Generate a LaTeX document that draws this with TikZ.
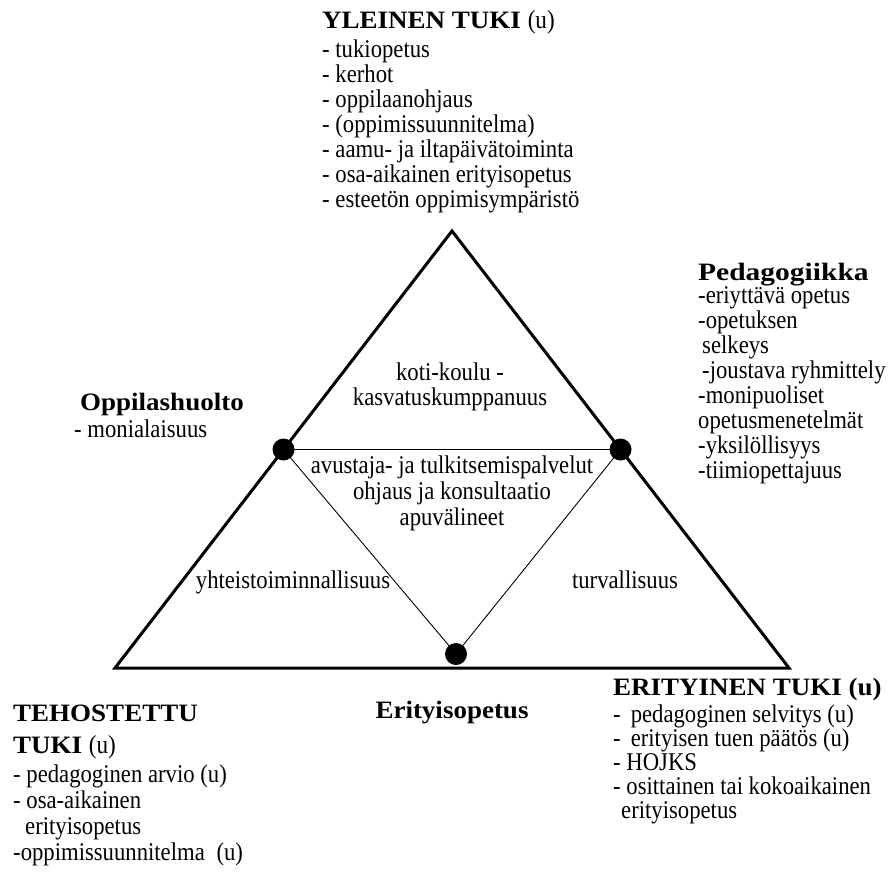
\documentclass[tikz,border=0pt]{standalone}
\usepackage{fontspec}
\setmainfont{Liberation Serif}[FakeStretch=0.89]
\newfontfamily\headfont{Liberation Serif}[FakeStretch=1.08]
\newfontfamily\headwide{Liberation Serif}[FakeStretch=1.18]
\usetikzlibrary{calc}
\tikzset{
  rim/.style={line width=3pt, line join=miter},
  midline/.style={line width=1.4pt},
  thinline/.style={line width=0.9pt},
  bullet/.style={circle, fill=black, inner sep=0pt, minimum size=22pt},
  heading/.style={inner sep=0pt, font=\headfont\bfseries\fontsize{25}{32}\selectfont},
  plain/.style={inner sep=0pt, font=\fontsize{25.5}{25}\selectfont},
  listing/.style={plain, anchor=north west, align=left, execute at begin node={\rule{0pt}{18pt}}},
  inside/.style={plain, anchor=north, align=center, execute at begin node={\rule{0pt}{18pt}}},
}
\newcommand\paren[1]{{\normalfont\fontsize{26}{32}\selectfont(#1)}}
\begin{document}
\begin{tikzpicture}[x=1pt,y=-1pt]
\useasboundingbox (0,0) rectangle (890,872);
% outer triangle and the inner triangle through the side midpoints
\coordinate (A) at (452,231);
\coordinate (BL) at (115,668);
\coordinate (BR) at (789,668);
\coordinate (L) at ($(A)!0.5!(BL)$);
\coordinate (R) at ($(A)!0.5!(BR)$);
\coordinate (B) at (456,654);
\draw[rim] (A) -- (BL) -- (BR) -- cycle;
\draw[midline] (L) -- (R);
\draw[thinline] (L) -- (B) -- (R);
\node[bullet] (dl) at (L) {};
\node[bullet] (dr) at (R) {};
\node[bullet] (db) at (B) {};

% top
\node[heading, anchor=base west] (yt) at (322,29) {YLEINEN TUKI \paren{u}};
\node[listing] (ytl) at (322,40) {- tukiopetus\\- kerhot\\- oppilaanohjaus\\- (oppimissuunnitelma)\\- aamu- ja iltapäivätoiminta\\- osa-aikainen erityisopetus\\- esteetön oppimisympäristö};

% right side
\node[heading, font=\headwide\bfseries\fontsize{25}{32}\selectfont, anchor=base west] (pg) at (698,280) {Pedagogiikka};
\node[listing] (pgl) at (698,286) {-eriyttävä opetus\\-opetuksen\\\hspace*{4pt}selkeys\\\hspace*{4pt}-joustava ryhmittely\\-monipuoliset\\opetusmenetelmät\\-yksilöllisyys\\-tiimiopettajuus};

% left side
\node[heading, anchor=base west] (oh) at (80,410) {Oppilashuolto};
\node[plain, anchor=base west] (ohl) at (74,437) {- monialaisuus};

% bottom left
\node[heading, anchor=north west, align=left, execute at begin node={\rule{0pt}{18pt}}] (tt) at (13,705) {TEHOSTETTU\\TUKI \paren{u}};
\node[listing, font=\fontsize{25.5}{26}\selectfont] (ttl) at (13,765) {- pedagoginen arvio (u)\\- osa-aikainen\\\hspace*{12pt}erityisopetus\\-oppimissuunnitelma\hspace*{6pt} (u)};

% bottom right
\node[heading, anchor=base west] (et) at (613,695) {ERITYINEN TUKI (u)};
\node[listing, font=\fontsize{25.5}{24}\selectfont] (etl) at (613,705) {-\hspace{10pt}pedagoginen selvitys (u)\\-\hspace{10pt}erityisen tuen päätös (u)\\- HOJKS\\- osittainen tai kokoaikainen\\\hspace*{8pt}erityisopetus};

% bottom centre
\node[heading, anchor=base] (eo) at (452,718) {Erityisopetus};

% inside the triangle
\node[inside] (kk) at (450,363) {koti-koulu -\\kasvatuskumppanuus};
\node[inside, font=\fontsize{25.5}{26}\selectfont] (av) at (452,456) {avustaja- ja tulkitsemispalvelut\\ohjaus ja konsultaatio\\apuvälineet};
\node[plain, anchor=base] (yh) at (293,588) {yhteistoiminnallisuus};
\node[plain, anchor=base] (tu) at (625,588) {turvallisuus};
\end{tikzpicture}
\end{document}
